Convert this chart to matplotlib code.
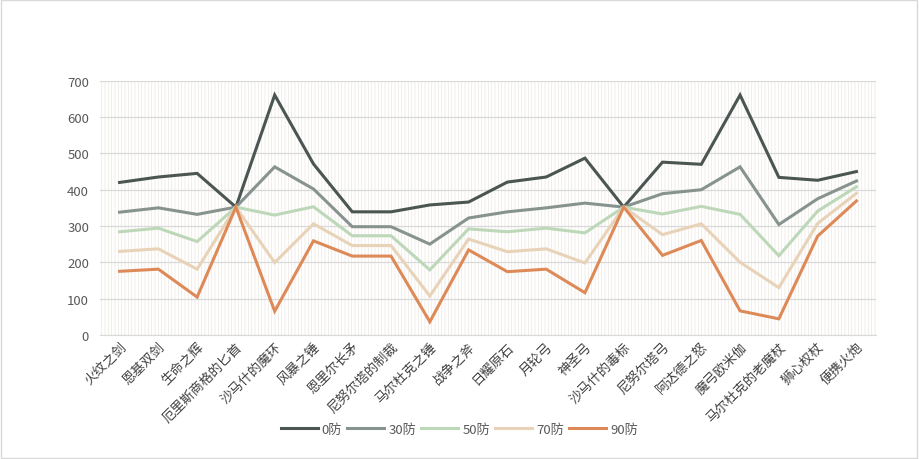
import matplotlib.pyplot as plt
from matplotlib.patches import Rectangle

plt.rcParams['font.family'] = ['Noto Sans CJK SC', 'DejaVu Sans']
plt.rcParams['hatch.linewidth'] = 0.5

weapons = ['火纹之剑', '恩基双剑', '生命之辉', '厄里斯商格的匕首', '沙马什的魔环',
           '风暴之锤', '恩里尔长矛', '尼努尔塔的制裁', '马尔杜克之锤', '战争之斧',
           '日耀原石', '月轮弓', '神圣弓', '沙马什的毒标', '尼努尔塔弓',
           '阿达德之怒', '魔弓欧米伽', '马尔杜克的老魔杖', '狮心权杖', '便携火炮']

def0 = [420, 435, 445, 352, 661, 471, 339, 339, 358, 366,
        421, 435, 487, 352, 476, 470, 661, 434, 426, 450]
def30 = [338, 350, 332, 352, 463, 402, 298, 298, 250, 322,
         339, 350, 363, 352, 389, 400, 463, 304, 375, 424]
def50 = [284, 294, 257, 352, 330, 353, 273, 273, 179, 292,
         284, 294, 281, 352, 333, 354, 332, 218, 341, 408]
def70 = [230, 237, 181, 352, 199, 306, 246, 246, 107, 264,
         229, 237, 198, 352, 276, 306, 200, 130, 307, 390]
def90 = [175, 181, 104, 352, 65, 259, 217, 217, 36, 234,
         174, 181, 116, 352, 219, 260, 66, 44, 272, 369]

series = [('0防', def0, '#4b5551'), ('30防', def30, '#87938f'),
          ('50防', def50, '#bdd8b8'), ('70防', def70, '#e8d3b8'),
          ('90防', def90, '#dd8a58')]

fig = plt.figure(figsize=(9.19, 4.6), dpi=100)
fig.patches.append(Rectangle((0.001, 0.003), 0.997, 0.994, transform=fig.transFigure,
                             fill=False, edgecolor='#d9d9d9', linewidth=1))
ax = fig.add_axes([0.109, 0.27, 0.844, 0.552])

x = list(range(len(weapons)))
# faint vertical stripe fill behind the plot
ax.add_patch(Rectangle((-0.5, 0), 20, 700, facecolor='white', hatch='|||||',
                       edgecolor='#ece8e0', linewidth=0, zorder=0))
for name, vals, color in series:
    ax.plot(x, vals, color=color, linewidth=2.2, label=name, zorder=3,
            solid_joinstyle='miter')

ax.set_xlim(-0.5, 19.5)
ax.set_ylim(0, 700)
ax.set_yticks(range(0, 701, 100))
ax.grid(axis='y', color='#d9d9d9', linewidth=0.9, zorder=1)
ax.set_axisbelow(True)
for s in ['top', 'right', 'left']:
    ax.spines[s].set_visible(False)
ax.spines['bottom'].set_color('#d9d9d9')
ax.tick_params(length=0, colors='#595959', labelsize=9.5)
ax.tick_params(axis='y', pad=8)
ax.set_xticks(x)
ax.set_xticklabels(weapons, rotation=45, ha='right', rotation_mode='anchor',
                   fontsize=9.5, color='#404040')

fig.legend(loc='center', bbox_to_anchor=(0.5, 0.065), ncol=5, frameon=False,
           fontsize=9.5, handlelength=2.8, handletextpad=0.3, columnspacing=0.4,
           labelcolor='#595959')

fig.savefig('out.png', dpi=100, facecolor='white')
